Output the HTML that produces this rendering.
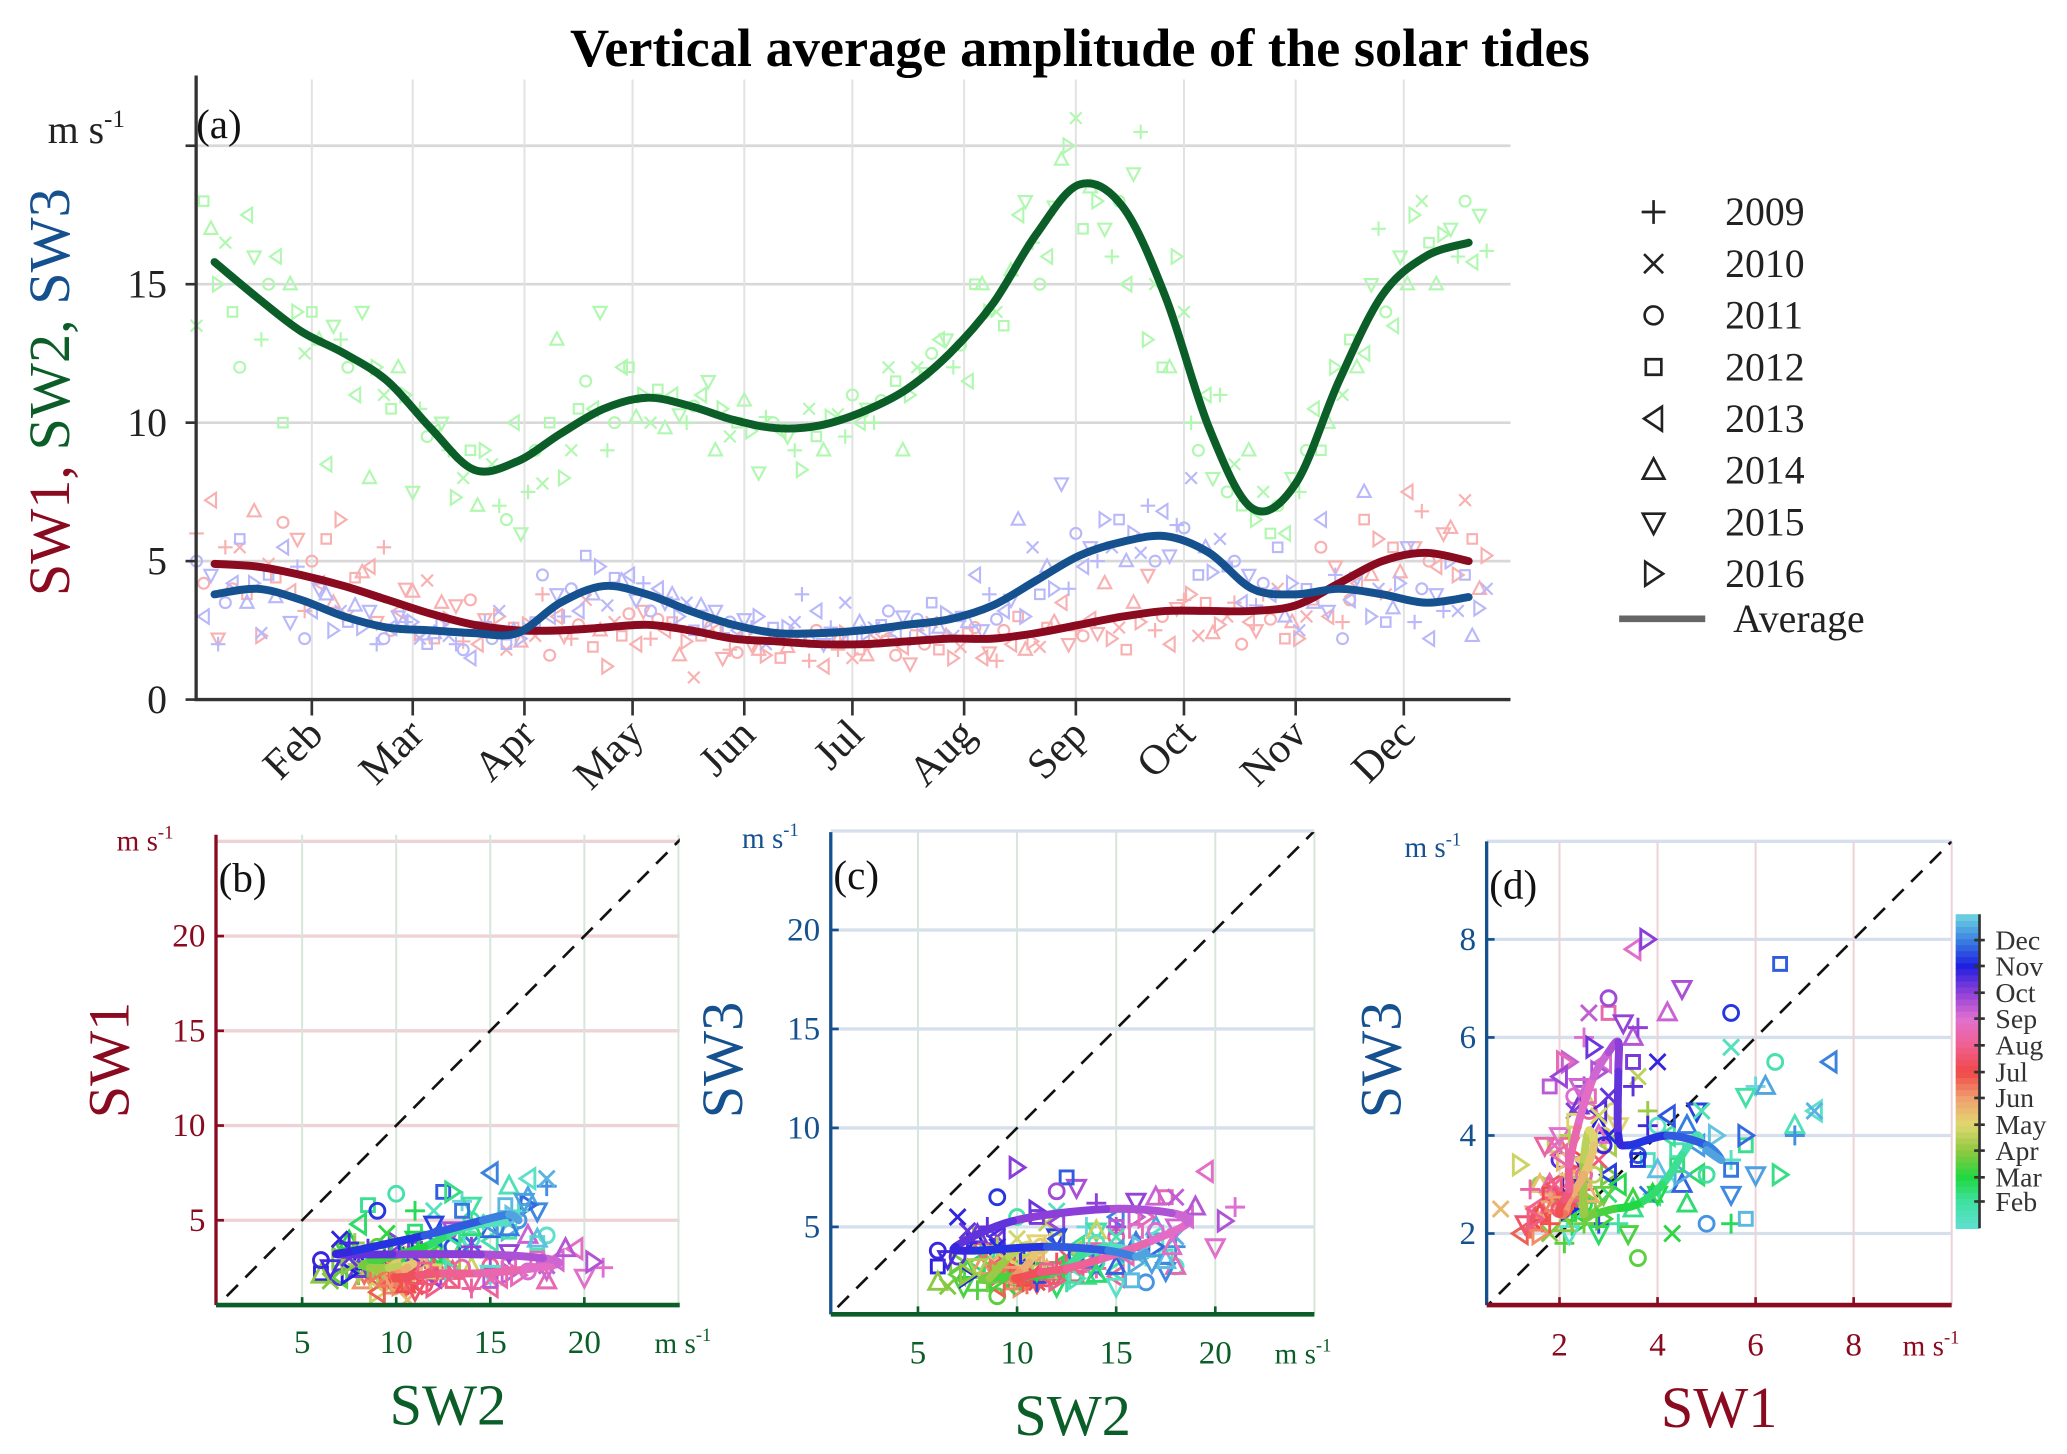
<!DOCTYPE html>
<html><head><meta charset="utf-8"><style>
html,body{margin:0;padding:0;background:#fff}
svg{display:block}
text{font-family:"Liberation Serif",serif}
</style></head><body>
<svg id="fig" width="2067" height="1454" viewBox="0 0 1560 1097.4" xmlns="http://www.w3.org/2000/svg">
<rect width="1560" height="1097.4" fill="#fff"/>
<text x="815" y="50" text-anchor="middle" font-size="41" font-weight="bold" fill="#000">Vertical average amplitude of the solar tides</text>
<g id="pa"></g>
<g id="pb"></g>
<g id="pc"></g>
<g id="pd"></g>
<g id="cb"></g>
</svg>
<script>
const days=[5,17,29,41,53,65,77,89,101,113,125,137,149,161,173,185,197,209,221,233,245,257,269,281,293,305,317,329,341,353];
const sw2Avg=[15.8,14.5,13.3,12.5,11.5,9.8,8.3,8.6,9.6,10.5,10.9,10.6,10.1,9.8,9.9,10.4,11.2,12.5,14.3,16.8,18.6,17.8,14.5,9.8,6.9,7.8,11.5,14.6,16.0,16.5];
const sw1Avg=[4.9,4.8,4.5,4.1,3.6,3.1,2.7,2.5,2.5,2.6,2.7,2.5,2.2,2.1,2.0,2.0,2.1,2.2,2.2,2.4,2.7,3.0,3.2,3.2,3.2,3.4,4.2,5.0,5.3,5.0];
const sw3Avg=[3.8,4.0,3.6,3.0,2.6,2.5,2.4,2.4,3.5,4.1,3.8,3.2,2.7,2.4,2.4,2.5,2.7,2.9,3.4,4.3,5.2,5.7,5.9,5.3,4.0,3.8,4.0,3.8,3.5,3.7];
const sw2A=[13.5,12,10,8.5,8,7.5,7.3,7,7.8,11.5,12,11,9,8.2,8.3,9.5,12,12.5,15,17.5,19.5,17,13,10,8.5,7,9,12.5,15,17];
const sw2B=[18,17.5,15,13.5,12,10.5,8,6.5,10,10.5,10.2,10.3,10.5,10.2,10.5,11,11.5,13,15,18,20,16,15,9,7,6,10,15,17.5,16];
const sw2C=[17,16,14,13,11,9.5,9,10,13,14,11,10,9.5,10,9.5,10,9,13,14,16.5,21,18,12,11,9,8,12,17,18,18];
const sw2D=[15,13,12.5,12,10.5,9.7,7,6,8,9,10,10.6,10,9.7,9,10.5,11,12,14,15,17,15,12,8,6.5,7.5,11,14,16.5,15.8];
const sw2E=[16.5,15,14,11,12,10,9,7.5,9,10,11.2,11,10.8,9.5,10.2,10,12,12.8,13.5,16,18.5,19,16,11,7.5,9,13,13.5,15,17.5];
const sw2F=[14,16,13,14,11,9,8.5,9,10.5,12,9.8,11.5,9.7,9,10.3,10.8,11.8,11.5,15.5,17.8,18,20.5,14,7.5,6,10.5,12,16,16.8,16.2];
const sw1A=[6.0,5.5,6.4,5.8,4.8,3.9,3.4,3.0,3.8,3.6,3.1,2.8,2.5,1.8,2.2,2.4,2.3,2.8,2.6,3.0,3.5,4.2,4.5,3.8,3.5,4.0,5.5,6.5,7.5,6.2];
const sw1B=[4.2,3.8,3.9,3.5,2.8,2.4,2.1,1.8,1.6,1.9,2.0,1.6,1.5,1.6,1.4,1.5,1.6,1.8,1.5,1.8,2.0,2.2,2.5,2.3,2.0,2.2,3.0,4.5,5.5,4.5];
const sw1C=[7.2,6.8,5.8,6.5,5.5,4.3,3.6,2.6,3.0,2.5,3.2,2.1,1.8,2.4,2.5,1.8,1.9,2.3,1.7,2.1,2.5,2.6,3.0,3.5,2.8,2.8,4.8,5.8,6.8,7.2];
const sw1D=[2.2,2.3,3.2,3.0,2.5,2.2,2.0,2.1,2.3,1.2,2.2,0.8,1.7,1.5,1.2,1.6,1.3,1.5,1.4,1.9,2.3,1.8,2.0,2.4,2.5,2.2,2.8,3.8,5.0,5.8];
const sw1E=[5.5,4.9,5.0,4.4,3.2,3.5,2.9,2.7,2.2,2.8,2.9,2.3,2.4,1.9,2.2,2.1,2.5,1.9,2.5,2.6,2.9,3.5,3.3,2.7,3.8,3.0,3.6,5.5,4.8,4.0];
const sw1F=[4.0,4.4,4.2,4.6,4.0,2.9,2.5,2.3,2.7,2.3,2.5,2.6,2.0,2.3,1.8,2.2,2.0,2.4,2.0,2.8,2.4,2.8,3.6,3.0,2.9,3.6,4.2,4.6,6.0,5.2];
const sw3A=[5.0,5.8,5.5,3.8,3.2,2.8,2.0,3.2,4.5,5.2,4.5,3.8,3.2,3.0,3.8,3.5,3.2,3.5,4.5,6.5,7.8,6.5,7.0,8.0,5.0,5.5,6.5,7.5,5.5,5.0];
const sw3B=[3.0,3.5,2.8,2.5,2.0,2.2,1.8,2.0,3.0,3.8,3.6,3.0,2.4,2.0,2.1,2.2,2.4,2.6,2.5,3.0,4.0,5.5,5.0,4.5,3.5,3.0,3.2,3.0,2.8,3.2];
const sw3C=[4.5,4.2,4.8,3.2,2.2,2.0,1.5,2.5,3.8,4.8,4.2,3.5,2.8,2.6,3.2,2.8,3.0,3.1,3.8,5.5,6.0,6.5,6.8,5.5,4.5,4.2,4.5,4.0,4.0,4.5];
const sw3D=[2.0,2.4,2.2,2.8,2.6,2.4,2.6,2.2,3.0,3.4,3.2,2.5,2.5,2.2,2.0,2.4,2.2,2.3,2.9,3.8,4.8,5.0,5.2,4.6,3.4,2.5,2.2,2.8,2.2,2.3];
const sw3E=[3.5,4.5,3.2,3.4,3.0,2.7,2.8,2.6,4.0,4.4,4.0,3.4,2.9,2.6,2.6,2.6,2.9,3.0,3.2,4.8,5.5,6.0,6.3,5.8,4.2,4.0,3.6,3.3,3.8,3.3];
const sw3F=[4.2,3.7,4.0,2.6,2.8,2.3,2.2,2.8,3.2,4.3,3.5,2.8,2.6,2.8,2.2,2.7,2.5,2.8,3.6,4.0,5.0,5.3,6.2,4.8,3.8,3.5,4.4,4.2,3.2,4.0];
const monthLabels=['Feb','Mar','Apr','May','Jun','Jul','Aug','Sep','Oct','Nov','Dec'];
const monthDays=[32,60,91,121,152,182,213,244,274,305,335];
const years=['2009','2010','2011','2012','2013','2014','2015','2016'];

const NS='http://www.w3.org/2000/svg';
function mk(tag,attrs,parent){const e=document.createElementNS(NS,tag);for(const k in attrs)e.setAttribute(k,attrs[k]);parent.appendChild(e);return e;}
function marker(type,x,y,r,col,sw,parent){
  let d;
  if(type==0)d=`M${x-r},${y}H${x+r}M${x},${y-r}V${y+r}`;
  else if(type==1)d=`M${x-r*.8},${y-r*.8}L${x+r*.8},${y+r*.8}M${x-r*.8},${y+r*.8}L${x+r*.8},${y-r*.8}`;
  else if(type==2){const c=mk('circle',{cx:x,cy:y,r:r*.75,fill:'none',stroke:col,'stroke-width':sw},parent);return c;}
  else if(type==3)d=`M${x-r*.65},${y-r*.65}h${r*1.3}v${r*1.3}h${-r*1.3}Z`;
  else if(type==4)d=`M${x+r*.7},${y-r}L${x-r*.8},${y}L${x+r*.7},${y+r}Z`;
  else if(type==5)d=`M${x},${y-r}L${x+r*.9},${y+r*.7}L${x-r*.9},${y+r*.7}Z`;
  else if(type==6)d=`M${x},${y+r}L${x+r*.9},${y-r*.7}L${x-r*.9},${y-r*.7}Z`;
  else d=`M${x-r*.7},${y-r}L${x+r*.8},${y}L${x-r*.7},${y+r}Z`;
  const p=mk('path',{d:d,fill:'none',stroke:col,'stroke-width':sw},parent);
  return p;
}
function smooth(pts){
  let d=`M${pts[0][0]},${pts[0][1]}`;
  for(let i=0;i<pts.length-1;i++){
    const p0=pts[Math.max(0,i-1)],p1=pts[i],p2=pts[i+1],p3=pts[Math.min(pts.length-1,i+2)];
    d+=`C${p1[0]+(p2[0]-p0[0])/6},${p1[1]+(p2[1]-p0[1])/6} ${p2[0]-(p3[0]-p1[0])/6},${p2[1]-(p3[1]-p1[1])/6} ${p2[0]},${p2[1]}`;
  }
  return d;
}
const cmapD=[1,32,60,91,121,152,182,213,244,274,305,335,365];
const cmapC=['#60e0d0','#40e0a0','#20d840','#90c840','#e0d870','#f0a070','#f04848','#f06090','#e070d0','#9040d8','#2020e0','#3a80e0','#70d8e0'];
function hex(c){return [1,3,5].map(i=>parseInt(c.substr(i,2),16));}
function dayColor(d){
  d=((d-1+364)%364)+1;
  for(let i=0;i<cmapD.length-1;i++){if(d<=cmapD[i+1]){const t=(d-cmapD[i])/(cmapD[i+1]-cmapD[i]);const a=hex(cmapC[i]),b=hex(cmapC[i+1]);return `rgb(${a.map((v,k)=>Math.round(v+(b[k]-v)*t)).join(',')})`;}}
  return cmapC[cmapC.length-1];
}
const sets1=[sw1A,sw1B,sw1C,sw1D,sw1E,sw1F],sets2=[sw2A,sw2B,sw2C,sw2D,sw2E,sw2F],sets3=[sw3A,sw3B,sw3C,sw3D,sw3E,sw3F];

// ---------- panel a ----------
(function(){
  const g=document.getElementById('pa');
  const X=d=>151+(d-1)*2.72, Y=v=>528-v*20.9;
  [5,10,15,20].forEach(v=>{const l=mk('line',{x1:148,x2:1140,y1:Y(v),y2:Y(v),stroke:'#d8d8d8','stroke-width':2},g);});
  monthDays.forEach(d=>{const l=mk('line',{x1:X(d),x2:X(d),y1:60,y2:528,stroke:'#e2e2e2','stroke-width':1.5},g);});
  const cols=['#f8b0b0','#b0f8b0','#b8b8fa'];
  [sets1,sets2,sets3].forEach((sets,si)=>{
    sets.forEach((arr,ai)=>{
      arr.forEach((v,j)=>{marker((ai*2+j+si)%8,X(days[j]+ai*2-5),Y(v),5.5,cols[si],1.6,g);});
    });
  });
  const avgCols=['#8a0a20','#0b5e28','#15508f'];
  [sw1Avg,sw2Avg,sw3Avg].forEach((arr,si)=>{
    const pts=arr.map((v,j)=>[X(days[j]),Y(v)]);
    const p=mk('path',{d:smooth(pts),fill:'none',stroke:avgCols[si],'stroke-width':6,'stroke-linecap':'round'},g);
    
    
  });
  const ax=mk('path',{d:'M148,57V528H1140',fill:'none',stroke:'#333','stroke-width':2.5},g);
  
  [0,5,10,15,20].forEach(v=>{mk('line',{x1:140,x2:148,y1:Y(v),y2:Y(v),stroke:'#333','stroke-width':2},g);
    if(v<20){const t=mk('text',{x:126,y:Y(v)+10,'text-anchor':'end','font-size':30,fill:'#222'},g);t.textContent=v;}});
  monthDays.forEach((d,i)=>{mk('line',{x1:X(d),x2:X(d),y1:528,y2:540,stroke:'#333','stroke-width':2},g);
    const t=mk('text',{x:X(d)+10,y:556,'text-anchor':'end','font-size':32,fill:'#222',transform:`rotate(-45 ${X(d)+10} 556)`},g);t.textContent=monthLabels[i];});
  let t=mk('text',{x:36,y:108,'font-size':30,fill:'#222'},g);t.innerHTML='m s<tspan font-size="19" dy="-12">-1</tspan>';
  t=mk('text',{x:148,y:104,'font-size':31,fill:'#111'},g);t.textContent='(a)';
  t=mk('text',{x:52,y:296,'text-anchor':'middle','font-size':44,'font-family':'Liberation Sans, sans-serif',transform:'rotate(-90 52 296)'},g);
  t.innerHTML='<tspan fill="#8a0a20">SW1, </tspan><tspan fill="#0b5e28">SW2, </tspan><tspan fill="#15508f">SW3</tspan>';
  
  years.forEach((y,i)=>{const yy=160+i*39;const lg=mk('g',{},g);
    marker(i,1248,yy,9,'#222',2,lg);const tt=mk('text',{x:1302,y:yy+10,'font-size':30,fill:'#222'},lg);tt.textContent=y;});
  mk('line',{x1:1222,x2:1287,y1:467,y2:467,stroke:'#666','stroke-width':5},g);
  t=mk('text',{x:1308,y:477,'font-size':30,fill:'#222'},g);t.textContent='Average';
})();

// ---------- scatter panels ----------
function scatterPanel(id,cfg){
  const g=document.getElementById(id);
  const X=v=>cfg.x0+v*cfg.kx, Y=v=>cfg.y0-v*cfg.ky;
  const cp=mk('clipPath',{id:id+'clip'},g);mk('rect',{x:cfg.L,y:cfg.T,width:cfg.R-cfg.L,height:cfg.B-cfg.T},cp);
  cfg.ygrid.forEach(v=>{const l=mk('line',{x1:cfg.L,x2:cfg.R,y1:Y(v),y2:Y(v),stroke:cfg.hg,'stroke-width':2.5},g);});
  cfg.xgrid.forEach(v=>{const l=mk('line',{x1:X(v),x2:X(v),y1:cfg.T,y2:cfg.B,stroke:cfg.vg,'stroke-width':1.5},g);});
  const pg=mk('g',{'clip-path':`url(#${id}clip)`},g);
  const dl=mk('line',{x1:X(0),y1:Y(0),x2:X(30),y2:Y(30),stroke:'#111','stroke-width':2,'stroke-dasharray':'12,8'},pg);
  
  cfg.xs.forEach((xa,ai)=>{const ya=cfg.ys[ai];xa.forEach((v,j)=>{marker((ai*2+j)%8,X(v),Y(ya[j]),7.5,dayColor(days[j]+ai*2-5),2.2,pg);});});
  const pts=cfg.xa.map((v,j)=>[X(v),Y(cfg.ya[j])]);
  for(let j=0;j<pts.length-1;j++){
    const seg=[pts[Math.max(0,j-1)],pts[j],pts[j+1],pts[Math.min(pts.length-1,j+2)]];
    const d=smooth(seg).split('C');
    const p=mk('path',{d:`M${pts[j][0]},${pts[j][1]}C${d[2]}`,fill:'none',stroke:dayColor(days[j]+6),'stroke-width':6,'stroke-linecap':'round'},pg);
    
  }
  mk('line',{x1:cfg.L,x2:cfg.L,y1:cfg.T,y2:cfg.B,stroke:cfg.lc,'stroke-width':2.5},g);
  mk('line',{x1:cfg.L,x2:cfg.R,y1:cfg.B,y2:cfg.B,stroke:cfg.bc,'stroke-width':3.5},g);
  cfg.yt.forEach(v=>{mk('line',{x1:cfg.L,x2:cfg.L+6,y1:Y(v),y2:Y(v),stroke:cfg.lc,'stroke-width':2},g);
    const t=mk('text',{x:cfg.L-8,y:Y(v)+8,'text-anchor':'end','font-size':25,fill:cfg.lc},g);t.textContent=v;});
  cfg.xt.forEach(v=>{mk('line',{x1:X(v),x2:X(v),y1:cfg.B,y2:cfg.B-6,stroke:cfg.bc,'stroke-width':2},g);
    const t=mk('text',{x:X(v),y:cfg.xly,'text-anchor':'middle','font-size':25,fill:cfg.bc},g);t.textContent=v;});
  let t=mk('text',{x:cfg.xux,y:cfg.xly,'font-size':22,fill:cfg.bc},g);t.innerHTML='m s<tspan font-size="14" dy="-9">-1</tspan>';
  t=mk('text',{x:cfg.yux,y:cfg.T+12,'font-size':22,fill:cfg.lc},g);t.innerHTML='m s<tspan font-size="14" dy="-9">-1</tspan>';
  t=mk('text',{x:cfg.L+2,y:cfg.T+43,'font-size':31,fill:'#111'},g);t.textContent=cfg.lab;
  t=mk('text',{x:(cfg.L+cfg.R)/2,y:cfg.xty,'text-anchor':'middle','font-size':44,fill:cfg.bc},g);t.textContent=cfg.xn;
  t=mk('text',{x:cfg.ytx,y:800,'text-anchor':'middle','font-size':44,'font-family':'Liberation Sans, sans-serif',fill:cfg.lc,transform:`rotate(-90 ${cfg.ytx} 800)`},g);t.textContent=cfg.yn;
}
const R='#8a0a20',G='#0b5e28',B='#15508f';
scatterPanel('pb',{x0:157,kx:14.2,y0:992.5,ky:14.3,L:163,R:513,T:630,B:985,xgrid:[5,10,15,20,25],ygrid:[5,10,15,20,25],xt:[5,10,15,20],yt:[5,10,15,20],hg:'#efd2d6',vg:'#d6e6da',lc:R,bc:G,xs:sets2,ys:sets1,xa:sw2Avg,ya:sw1Avg,xly:1021,xux:494,yux:88,lab:'(b)',xn:'SW2',yn:'SW1',xty:1075,ytx:97});
scatterPanel('pc',{x0:618,kx:14.96,y0:1000.7,ky:14.94,L:627,R:992,T:628,B:992,xgrid:[5,10,15,20,25],ygrid:[5,10,15,20,25],xt:[5,10,15,20],yt:[5,10,15,20],hg:'#d6dfec',vg:'#d6e6da',lc:B,bc:G,xs:sets2,ys:sets3,xa:sw2Avg,ya:sw3Avg,xly:1029,xux:962,yux:560,lab:'(c)',xn:'SW2',yn:'SW3',xty:1083,ytx:560});
scatterPanel('pd',{x0:1103,kx:37,y0:1005,ky:37,L:1122,R:1473,T:635,B:985,xgrid:[2,4,6,8,10],ygrid:[2,4,6,8,10],xt:[2,4,6,8],yt:[2,4,6,8],hg:'#d6dfec',vg:'#efd2d6',lc:B,bc:R,xs:sets1,ys:sets3,xa:sw1Avg,ya:sw3Avg,xly:1023,xux:1436,yux:1060,lab:'(d)',xn:'SW1',yn:'SW3',xty:1077,ytx:1057});

// ---------- colorbar ----------
(function(){
  const g=document.getElementById('cb');
  const Yc=d=>927-(d-1)/364*237;
  for(let d=1;d<365;d+=7){const r=mk('rect',{x:1476,y:Yc(d+7),width:18,height:237/52+0.6,fill:dayColor(d+3)},g);}
  mk('line',{x1:1494,x2:1494,y1:690,y2:927,stroke:'#333','stroke-width':2},g);
  monthDays.forEach((d,i)=>{mk('line',{x1:1490,x2:1498,y1:Yc(d),y2:Yc(d),stroke:'#333','stroke-width':2},g);
    const t=mk('text',{x:1506,y:Yc(d)+7,'font-size':21,fill:'#333'},g);t.textContent=monthLabels[i];});
})();
</script>
</body></html>
